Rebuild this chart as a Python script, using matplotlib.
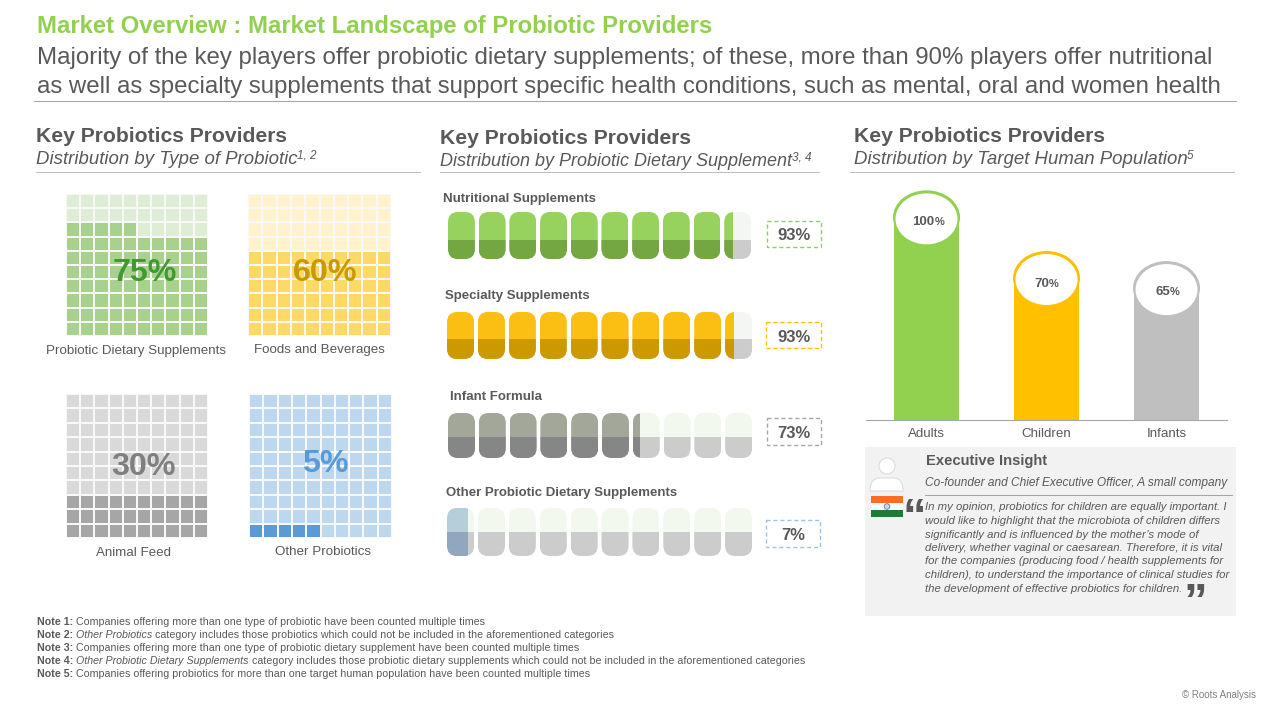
import matplotlib
matplotlib.use("Agg")
import matplotlib.pyplot as plt
import numpy as np
from matplotlib.colors import ListedColormap
from matplotlib.patches import Circle, Ellipse, PathPatch, Rectangle
from matplotlib.path import Path

W, H = 1280, 720
GREY = "#595959"

plt.rcParams["font.family"] = ["Liberation Sans", "DejaVu Sans"]

# data
waffle_labels = ["Probiotic Dietary Supplements", "Foods and Beverages", "Animal Feed", "Other Probiotics"]
waffle_values = [75, 60, 30, 5]

pill_labels = ["Nutritional Supplements", "Specialty Supplements", "Infant Formula", "Other Probiotic Dietary Supplements"]
pill_values = [93, 93, 73, 7]
pill_drawn = [94, 94, 63, 7]  # how far the fill really reaches in the picture

pop_labels = ["Adults", "Children", "Infants"]
pop_values = [100, 70, 65]

notes = [
    [("Note 1: ", "b"), ("Companies offering more than one type of probiotic have been counted multiple times", "r")],
    [("Note 2: ", "b"), ("Other Probiotics ", "i"), ("category includes those probiotics which could not be included in the aforementioned categories", "r")],
    [("Note 3: ", "b"), ("Companies offering more than one type of probiotic dietary supplement have been counted multiple times", "r")],
    [("Note 4: ", "b"), ("Other Probiotic Dietary Supplements ", "i"), ("category includes those probiotic dietary supplements which could not be included in the aforementioned categories", "r")],
    [("Note 5: ", "b"), ("Companies offering probiotics for more than one target human population have been counted multiple times", "r")],
]

quote_lines = [
    "In my opinion, probiotics for children are equally important. I",
    "would like to highlight that the microbiota of children differs",
    "significantly and is influenced by the mother\u2019s mode of",
    "delivery, whether vaginal or caesarean. Therefore, it is vital",
    "for the companies (producing food / health supplements for",
    "children), to understand the importance of clinical studies for",
    "the development of effective probiotics for children.",
]

fig = plt.figure(figsize=(W / 100, H / 100), dpi=100, facecolor="white")


def px_axes(x0, y0, x1, y1, **kw):
    return fig.add_axes([x0 / W, 1 - y1 / H, (x1 - x0) / W, (y1 - y0) / H], **kw)


# waffles
waffle_boxes = [(66, 194, 208, 336), (248, 194, 391, 336), (66, 394, 208, 538), (249, 394, 392, 538)]
waffle_cols = [("#dfecd6", "#a9d18e"), ("#fff2cc", "#ffd966"), ("#d9d9d9", "#a6a6a6"), ("#bdd7ee", "#5b9bd5")]
for box, val, cols in zip(waffle_boxes, waffle_values, waffle_cols):
    ax = px_axes(*box)
    grid = np.zeros(100)
    grid[:val] = 1
    ax.pcolormesh(grid.reshape(10, 10), cmap=ListedColormap(cols), vmin=0, vmax=1,
                  edgecolors="#f8f8f8", linewidth=1.1)
    ax.axis("off")


def pill_path(x, w, rx, ry):
    r, t = x + w, 1.0
    verts = [(x + rx, 0), (r - rx, 0), (r, 0), (r, ry), (r, t - ry), (r, t), (r - rx, t),
             (x + rx, t), (x, t), (x, t - ry), (x, ry), (x, 0), (x + rx, 0), (x + rx, 0)]
    codes = [Path.MOVETO, Path.LINETO, Path.CURVE3, Path.CURVE3, Path.LINETO, Path.CURVE3, Path.CURVE3,
             Path.LINETO, Path.CURVE3, Path.CURVE3, Path.LINETO, Path.CURVE3, Path.CURVE3, Path.CLOSEPOLY]
    return Path(verts, codes)


# pill rows
pill_boxes = [(448, 212, 751, 259), (447, 312, 752, 359), (448, 413, 752, 458), (447, 508, 752, 556)]
pill_split = [0.40, 0.42, 0.47, 0.50]
pill_cols = [("#97d25f", "#74a641"), ("#fbbf13", "#cc9900"), ("#a2a79a", "#868686"), ("#b5ceda", "#93a6c0")]
empty_top = ["#f4f6f4", "#f4f6f4", "#f3f8ee", "#f3f8ee"]
pitch, pill_w = 10.13, 8.88
for box, drawn, split, cols, top in zip(pill_boxes, pill_drawn, pill_split, pill_cols, empty_top):
    ax = px_axes(*box)
    ax.set_xlim(0, 100)
    ax.set_ylim(0, 1)
    ax.axis("off")
    for i in range(10):
        left = i * pitch
        clip = PathPatch(pill_path(left, pill_w, 3.3, 0.22), fc="none", ec="none")
        ax.add_patch(clip)
        fill = float(np.clip(drawn - left, 0, pill_w))
        parts = [ax.bar(left, 1 - split, pill_w, bottom=split, align="edge", color=top),
                 ax.bar(left, split, pill_w, align="edge", color="#cccccc")]
        if fill > 0:
            parts += [ax.bar(left, 1 - split, fill, bottom=split, align="edge", color=cols[0]),
                      ax.bar(left, split, fill, align="edge", color=cols[1])]
        for part in parts:
            part[0].set_clip_path(clip)

# target population bars
pop_cols = ["#92d050", "#ffc000", "#bfbfbf"]
ax = px_axes(866, 185, 1227, 419.5)
xs = np.arange(len(pop_values))
ax.bar(xs, pop_values, width=0.54, color=pop_cols)
ax.set_xlim(-0.504, 2.504)
ax.set_ylim(0, 116)
ux, uy = 1 / 120, 116 / 234.5  # data units per pixel
for x, v, c in zip(xs, pop_values, pop_cols):
    ax.add_patch(Ellipse((x, v), 67 * ux, 54 * uy, fc=c, ec="none", clip_on=False))
    ax.add_patch(Ellipse((x, v - 1.5 * uy), 62 * ux, 51 * uy, fc="white", ec="none", clip_on=False))
ax.set_xticks(xs, pop_labels, fontsize=9.6, color=GREY)
ax.tick_params(axis="x", length=0, pad=6)
ax.set_yticks([])
for s in ["top", "left", "right"]:
    ax.spines[s].set_visible(False)
ax.spines["bottom"].set_color("#a6a6a6")
ax.patch.set_alpha(0)

# page layer in pixel coordinates
pg = fig.add_axes([0, 0, 1, 1], zorder=10)
pg.set_xlim(0, W)
pg.set_ylim(H, 0)
pg.axis("off")


def txt(x, y, s, size, color=GREY, weight="normal", style="normal", ha="left"):
    y = y + (2 if size >= 9 else 1)
    return pg.text(x, y, s, fontsize=size, color=color, fontweight=weight, fontstyle=style, ha=ha, va="center")


def runs(x, y, parts, size, color=GREY):
    rend = fig.canvas.get_renderer()
    for s, kind in parts:
        t = txt(x, y, s, size, color, "bold" if kind == "b" else "normal", "italic" if kind == "i" else "normal")
        x += t.get_window_extent(rend).width


txt(37, 24, "Market Overview : Market Landscape of Probiotic Providers", 17.2, "#92d050", "bold")
txt(37, 56, "Majority of the key players offer probiotic dietary supplements; of these, more than 90% players offer nutritional", 17.25)
txt(37, 85, "as well as specialty supplements that support specific health conditions, such as mental, oral and women health", 17.25)
pg.plot([34, 1236], [100.5, 100.5], color="#a6a6a6", lw=0.75)

heads = [(36, 134, 158, "Distribution by Type of Probiotic", 13.45, 297, "1, 2", 36, 420),
         (440, 137, 160, "Distribution by Probiotic Dietary Supplement", 13, 792, "3, 4", 440, 819),
         (854, 135, 158, "Distribution by Target Human Population", 13.45, 1187, "5", 850, 1234)]
for x, y1, y2, sub, sub_size, sx, sup, r0, r1 in heads:
    txt(x, y1, "Key Probiotics Providers", 15.2, weight="bold")
    txt(x, y2, sub, sub_size, style="italic")
    txt(sx, y2 - 3, sup, 8.5, style="italic")
    pg.plot([r0, r1], [171.5, 171.5], color="#bfbfbf", lw=0.75)

# waffle labels
for (x, y), s in zip([(136, 349), (319, 348), (134, 551), (323, 550)], waffle_labels):
    txt(x, y, s, 9.6, ha="center")
for (x, y), v, c in zip([(145, 271), (325, 271), (143, 465), (325, 462)], waffle_values,
                        ["#3f9b2f", "#c99a00", "#7f7f7f", "#5b9bd5"]):
    txt(x, y, f"{v}%", 23.2, c, "bold", ha="center")

# pill labels
for (x, y), s in zip([(443, 197), (445, 294), (450, 395), (446, 491)], pill_labels):
    txt(x, y, s, 9.55, weight="bold")
value_boxes = [(767, 221, 821, 247), (766, 322, 821, 348), (767, 418, 821, 445), (766, 520, 820, 547)]
for (x0, y0, x1, y1), v, c in zip(value_boxes, pill_values, ["#92d050", "#ffc000", "#a6a6a6", "#9dc3e6"]):
    pg.add_patch(Rectangle((x0, y0), x1 - x0, y1 - y0, fc="white", ec=c, lw=1, ls=(0, (3, 2))))
    txt((x0 + x1) / 2, (y0 + y1) / 2, f"{v}%", 12, weight="bold", ha="center")

# bar value labels, the % sign is set smaller
rend = fig.canvas.get_renderer()
for (x, y), v in zip([(912.5, 220), (1034, 282), (1155, 290)], pop_values):
    t = txt(x, y, str(v), 9.5, weight="bold")
    txt(x + t.get_window_extent(rend).width, y + 1, "%", 8, weight="bold")

# insight panel
pg.add_patch(Rectangle((865, 447), 371, 169, fc="#f2f2f2", ec="none", zorder=0))
pg.add_patch(Circle((887, 466), 8, fc="white", ec="#d9d9d9", lw=0.7))
pg.add_patch(PathPatch(Path([(870, 491), (870, 478), (880, 478), (894, 478), (903, 478), (903, 491), (870, 491)],
                            [Path.MOVETO, Path.CURVE3, Path.CURVE3, Path.LINETO, Path.CURVE3, Path.CURVE3, Path.CLOSEPOLY]),
                       fc="white", ec="#d9d9d9", lw=0.7))
for y0, c in zip([496, 503, 510], ["#ff6d1f", "white", "#1e7a34"]):
    pg.add_patch(Rectangle((871, y0), 32, 7, fc=c, ec="none"))
pg.add_patch(Circle((887, 506.5), 2.8, fc="#c8d6e5", ec="#4f7fa8", lw=0.6))

txt(926, 459, "Executive Insight", 10.6, weight="bold")
txt(925, 482, "Co-founder and Chief Executive Officer, A small company", 8.57, style="italic")
pg.plot([925, 1232], [494.5, 494.5], color="#a6a6a6", lw=0.75)
for y, s in zip([506.5, 520, 533.5, 547, 560.5, 574, 587.5], quote_lines):
    txt(925, y, s, 8.2, style="italic")
pg.text(902, 519, "\u201c", fontsize=34, color=GREY, fontweight="bold", va="center")
pg.text(1183, 604, "\u201d", fontsize=34, color=GREY, fontweight="bold", va="center")

for y, parts in zip([621, 634, 647, 660, 673], notes):
    runs(37, y, parts, 7.67)
txt(1256, 694, "\u00a9 Roots Analysis", 7, "#7f7f7f", ha="right")

fig.savefig("out.png", dpi=100)
